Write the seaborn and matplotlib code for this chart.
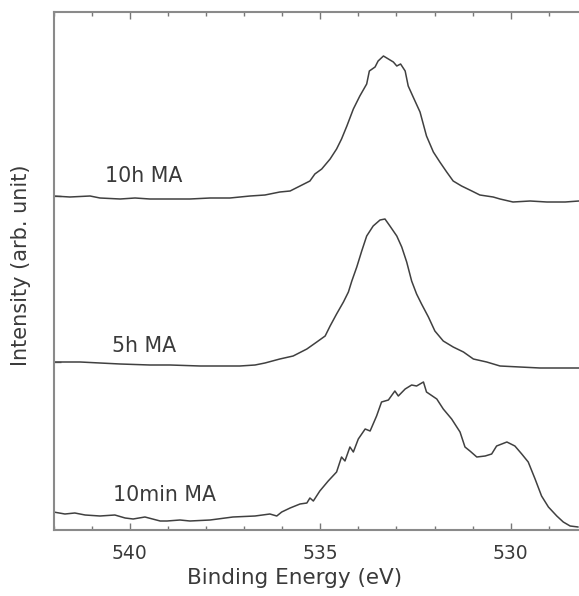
import matplotlib
matplotlib.use("Agg")
import matplotlib.pyplot as plt
import seaborn as sns
import pandas as pd
from matplotlib.ticker import MultipleLocator, FixedLocator

# ---- data (binding energy in eV, intensity in arbitrary units, curves offset) ----
energy_10h = [542.00, 541.57, 541.04, 540.78, 540.25, 539.86, 539.47, 538.94, 538.42, 537.89,
              537.37, 536.84, 536.45, 536.06, 535.79, 535.53, 535.27, 535.14, 534.96, 534.74,
              534.57, 534.44, 534.30, 534.13, 533.96, 533.78, 533.71, 533.56, 533.48, 533.34,
              533.21, 533.08, 532.99, 532.89, 532.77, 532.69, 532.56, 532.38, 532.21, 532.03,
              531.86, 531.68, 531.51, 531.29, 531.02, 530.81, 530.46, 530.28, 529.94, 529.49,
              529.05, 528.57, 528.21]
intensity_10h = [334, 333, 334, 332, 331, 332, 331, 331, 331, 332,
                 332, 334, 335, 338, 339, 344, 349, 356, 361, 371,
                 381, 391, 404, 421, 434, 446, 459, 463, 469, 474,
                 471, 468, 464, 466, 459, 444, 433, 418, 394, 378,
                 368, 358, 349, 344, 339, 335, 333, 331, 328, 329,
                 328, 328, 329]

energy_5h = [542.00, 541.30, 540.78, 540.25, 539.47, 538.94, 538.15, 537.63, 537.11, 536.71,
             536.45, 536.06, 535.71, 535.35, 535.09, 534.87, 534.74, 534.57, 534.39, 534.26,
             534.17, 534.04, 533.91, 533.78, 533.61, 533.43, 533.30, 533.17, 532.99, 532.86,
             532.73, 532.60, 532.47, 532.34, 532.16, 531.99, 531.77, 531.51, 531.24, 530.98,
             530.63, 530.28, 529.76, 529.23, 528.71, 528.21]
intensity_5h = [168, 168, 167, 166, 165, 165, 164, 164, 164, 165,
                167, 171, 174, 181, 188, 194, 204, 216, 228, 238,
                249, 263, 279, 294, 304, 310, 311, 304, 294, 283,
                268, 249, 236, 226, 213, 199, 189, 183, 178, 171,
                168, 164, 163, 162, 162, 162]

energy_10min = [542.00, 541.70, 541.44, 541.17, 540.78, 540.39, 540.12, 539.91, 539.60, 539.20,
                539.02, 538.68, 538.42, 537.89, 537.29, 536.71, 536.32, 536.14, 536.01, 535.79,
                535.53, 535.35, 535.27, 535.18, 535.01, 534.79, 534.57, 534.44, 534.35, 534.22,
                534.13, 534.00, 533.82, 533.69, 533.52, 533.39, 533.21, 533.04, 532.95, 532.77,
                532.60, 532.47, 532.29, 532.21, 531.94, 531.77, 531.55, 531.33, 531.20, 531.07,
                530.89, 530.67, 530.50, 530.37, 530.10, 529.89, 529.71, 529.54, 529.36, 529.19,
                529.01, 528.79, 528.62, 528.44, 528.23]
intensity_10min = [18, 16, 17, 15, 14, 15, 12, 11, 13, 9,
                   9, 10, 9, 10, 13, 14, 16, 14, 18, 22,
                   26, 27, 32, 29, 39, 49, 58, 73, 69, 83,
                   78, 91, 101, 99, 114, 128, 130, 139, 134, 141,
                   145, 144, 148, 138, 131, 121, 111, 98, 83, 79,
                   73, 74, 76, 84, 88, 84, 76, 68, 51, 34,
                   23, 14, 8, 4, 3]

labels = ["10h MA", "5h MA", "10min MA"]
label_x = [540.65, 540.46, 540.44]
label_y = [348, 178, 29]
baseline_ticks = [334, 168]
x_major = [540, 535, 530]

# ---- figure ----
sns.set_style("ticks")
plt.rcParams["font.family"] = ["DejaVu Sans"]

W, H = 579, 596
fig = plt.figure(figsize=(W / 100, H / 100), dpi=100)
left_px, top_px, bottom_px = 53.5, 12, 530
px_per_ev = 38.1
xmin, xmax = 542.0, 528.0
width_px = (xmin - xmax) * px_per_ev
height_px = bottom_px - top_px
ax = fig.add_axes([left_px / W, (H - bottom_px) / H, width_px / W, height_px / H])

line_color = "#404040"
for e, i in [(energy_10h, intensity_10h), (energy_5h, intensity_5h), (energy_10min, intensity_10min)]:
    df = pd.DataFrame({"energy": e, "intensity": i})
    sns.lineplot(data=df, x="energy", y="intensity", ax=ax, color=line_color,
                 linewidth=1.1, sort=False, estimator=None)

text_color = "#3a3a3a"
for lab, x, y in zip(labels, label_x, label_y):
    ax.text(x, y, lab, fontsize=14.8, color=text_color, ha="left", va="baseline")

ax.set_xlim(xmin, xmax)
ax.set_ylim(0, height_px)
ax.xaxis.set_major_locator(FixedLocator(x_major))
ax.xaxis.set_minor_locator(MultipleLocator(1))
ax.set_yticks(baseline_ticks)
ax.set_yticklabels([])
tick_color = "#777777"
ax.tick_params(axis="x", which="major", direction="in", top=True, bottom=True, length=5,
               width=1, color=tick_color, labelsize=13.5, labelcolor=text_color, pad=10)
ax.tick_params(axis="x", which="minor", direction="in", top=True, bottom=True, length=3,
               width=1, color=tick_color)
ax.tick_params(axis="y", which="major", direction="in", left=True, right=False, length=5,
               width=1, color=tick_color)

for s in ["left", "bottom", "top"]:
    ax.spines[s].set_visible(True)
    ax.spines[s].set_color("#8a8a8a")
    ax.spines[s].set_linewidth(1.5)
ax.spines["right"].set_visible(False)

ax.set_xlabel("Binding Energy (eV)", fontsize=15.5, color=text_color)
ax.set_ylabel("Intensity (arb. unit)", fontsize=15, color=text_color)
ax.xaxis.set_label_coords((295 - left_px) / width_px, -(568 - bottom_px) / height_px)
ax.yaxis.set_label_coords(-(left_px - 31) / width_px, (bottom_px - 265) / height_px)

fig.savefig("out.png", dpi=100)
